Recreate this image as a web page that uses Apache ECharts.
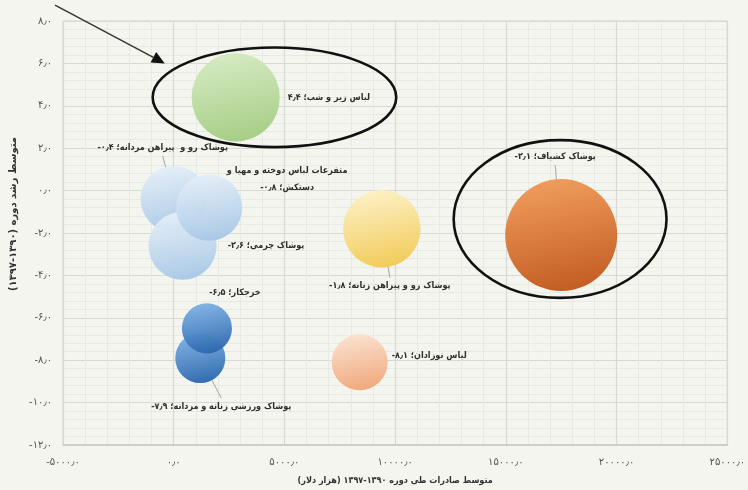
<!DOCTYPE html>
<html><head><meta charset="utf-8">
<script src="https://cdn.jsdelivr.net/npm/echarts@6/dist/echarts.min.js"></script>
<style>html,body{margin:0;padding:0;background:#f3f5ee}#c{width:748px;height:490px}</style>
</head><body><div id="c"></div>
<script>
// ---- data ----
const names = ['لباس زیر و شب','پوشاک کشباف','پوشاک رو و پیراهن زنانه','لباس نوزادان','پوشاک رو و  پیراهن مردانه','پوشاک چرمی','متفرعات لباس دوخته و مهیا و\nدستکش','پوشاک ورزشی زنانه و مردانه','خرجکار'];
const exportsAvg = [2800, 17500, 9400, 8400, 0, 400, 1600, 1200, 1500];
const growth = [4.4, -2.1, -1.8, -8.1, -0.4, -2.6, -0.8, -7.9, -6.5];
const bubbleSize = [62, 100, 48, 25, 35, 37, 35, 20, 20];
const xRange = [-5000, 25000]; const xStep = 5000;
const yRange = [-12, 8]; const yStep = 2;
const xTitle = 'متوسط صادرات طی دوره ۱۳۹۰-۱۳۹۷ (هزار دلار)';
const yTitle = 'متوسط رشد دوره (۱۳۹۰-۱۳۹۷)';
// annotations in data units: [cx, cy, rx, ry]
const ellipses = [[4550, 4.4, 5500, 2.35], [17450, -1.34, 4806, 3.72]];
const arrow = [[-5360, 8.75], [-400, 6.0]];

// ---- styles ----
const grads = [
  ['#d6eac2','#a3cd82'], ['#f09a58','#c2571b'], ['#fdf1c6','#f2ca55'], ['#fbe2cf','#f0a679'],
  ['#e6eff8','#a8c8e6'], ['#e6eff8','#a8c8e6'], ['#e6eff8','#a8c8e6'], ['#80b3e6','#2c68ae'], ['#80b3e6','#2c68ae']
];
const labelCfg = [
  {position:'right', distance:8},
  {position:'top', distance:14, offset:[-6,0], line:true},
  {position:'bottom', distance:10, offset:[8,0], line:true},
  {position:'right', distance:4, offset:[0,-7]},
  {position:'top', distance:10, offset:[-11,0], line:true},
  {position:'right', distance:11},
  {position:'inside', offset:[78,-28]},
  {position:'bottom', distance:15, offset:[21,0], line:true},
  {position:'top', distance:2, offset:[28,0]}
];

const FA = '۰۱۲۳۴۵۶۷۸۹';
function fa(n, d){ return n.toFixed(d).replace(/\d/g, c => FA[c]).replace('.', '٫'); }
function rtl(s){ return '\u2067' + s + '\u2069'; }
function labelText(name, v){
  const num = '\u2066' + fa(v,1) + '\u2069';
  const parts = name.split('\n');
  const last = parts.pop();
  return parts.map(p => rtl(p)).concat([rtl(last + '؛ ' + num)]).join('\n');
}

const data = names.map((n,i) => ({
  value: [exportsAvg[i], growth[i], bubbleSize[i]],
  name: n,
  symbolSize: 112*Math.sqrt(bubbleSize[i]/100),
  itemStyle: {color: new echarts.graphic.LinearGradient(0.3,0,0.5,1,[{offset:0,color:grads[i][0]},{offset:1,color:grads[i][1]}]), opacity:0.96},
  label: {show:true, position: labelCfg[i].position, distance: labelCfg[i].distance||5, offset: labelCfg[i].offset||[0,0],
          formatter: labelText(n, growth[i]), align:'center'},
  labelLine: labelCfg[i].line ? {show:true, lineStyle:{color:'#a5a5a5', width:1}} : {show:false}
}));
data.forEach(d => { if (d.label.position==='right') d.label.align='left'; });

const font = '"DejaVu Sans", sans-serif';
const condFont = '"DejaVu Sans Condensed", "DejaVu Sans", sans-serif';
const chart = echarts.init(document.getElementById('c'), null, {renderer:'canvas'});
const axisCommon = {
  axisTick:{show:false}, axisLine:{show:false},
  splitLine:{show:true, lineStyle:{color:'#d7dad2', width:1.2}},
  minorTick:{show:false, splitNumber:5},
  minorSplitLine:{show:true, lineStyle:{color:'#e7eae2', width:1}}
};
chart.setOption({
  backgroundColor:'#f3f5ee',
  animation:false,
  grid:{left:63, right:17, top:21, bottom:43, show:true, borderColor:'#d3d6ce', borderWidth:1},
  xAxis:[Object.assign({type:'value', min:xRange[0], max:xRange[1], interval:xStep,
    axisLabel:{formatter:v=>fa(v,1), color:'#555', fontSize:10, fontFamily:font, margin:12},
    name:xTitle, nameLocation:'middle', nameGap:31, nameTextStyle:{fontFamily:condFont, fontSize:9, fontWeight:'bold', color:'#333'}
  }, axisCommon),
  {type:'value', min:xRange[0], max:xRange[1], interval:xStep, position:'bottom',
    axisLine:{show:true, onZero:true, lineStyle:{color:'#c9ccc4', width:1.5}},
    axisLabel:{show:false}, axisTick:{show:false}, splitLine:{show:false}}],
  yAxis:Object.assign({type:'value', min:yRange[0], max:yRange[1], interval:yStep,
    axisLabel:{formatter:v=>fa(v,1), color:'#555', fontSize:10, fontFamily:font, margin:11},
    name:yTitle, nameLocation:'middle', nameGap:40, nameTextStyle:{fontFamily:font, fontSize:10, fontWeight:'bold', color:'#333', padding:[0,0,0,38]}
  }, axisCommon),
  series:[{
    type:'scatter', xAxisIndex:0, data:data, z:3,
    label:{fontFamily:condFont, fontSize:9, fontWeight:'bold', color:'#262626', lineHeight:17},
    emphasis:{disabled:true}
  }]
});

function px(p){ return chart.convertToPixel({xAxisIndex:0, yAxisIndex:0}, p); }
const graphics = ellipses.map(e => {
  const c = px([e[0], e[1]]);
  const a = px([e[0]+e[2], e[1]+e[3]]);
  return {type:'ellipse', z:10, shape:{cx:c[0], cy:c[1], rx:Math.abs(a[0]-c[0]), ry:Math.abs(a[1]-c[1])},
          style:{fill:'none', stroke:'#111', lineWidth:2.6}};
});
const p0 = px(arrow[0]), p1 = px(arrow[1]);
const ang = Math.atan2(p1[1]-p0[1], p1[0]-p0[0]);
const hl = 13, hw = 6;
const bx = p1[0]-hl*Math.cos(ang), by = p1[1]-hl*Math.sin(ang);
graphics.push({type:'line', z:10, shape:{x1:p0[0], y1:p0[1], x2:bx, y2:by}, style:{stroke:'#333', lineWidth:1.4}});
graphics.push({type:'polygon', z:10, shape:{points:[[p1[0],p1[1]],[bx-hw*Math.sin(ang), by+hw*Math.cos(ang)],[bx+hw*Math.sin(ang), by-hw*Math.cos(ang)]]}, style:{fill:'#111'}});
chart.setOption({graphic:graphics});
</script></body></html>
